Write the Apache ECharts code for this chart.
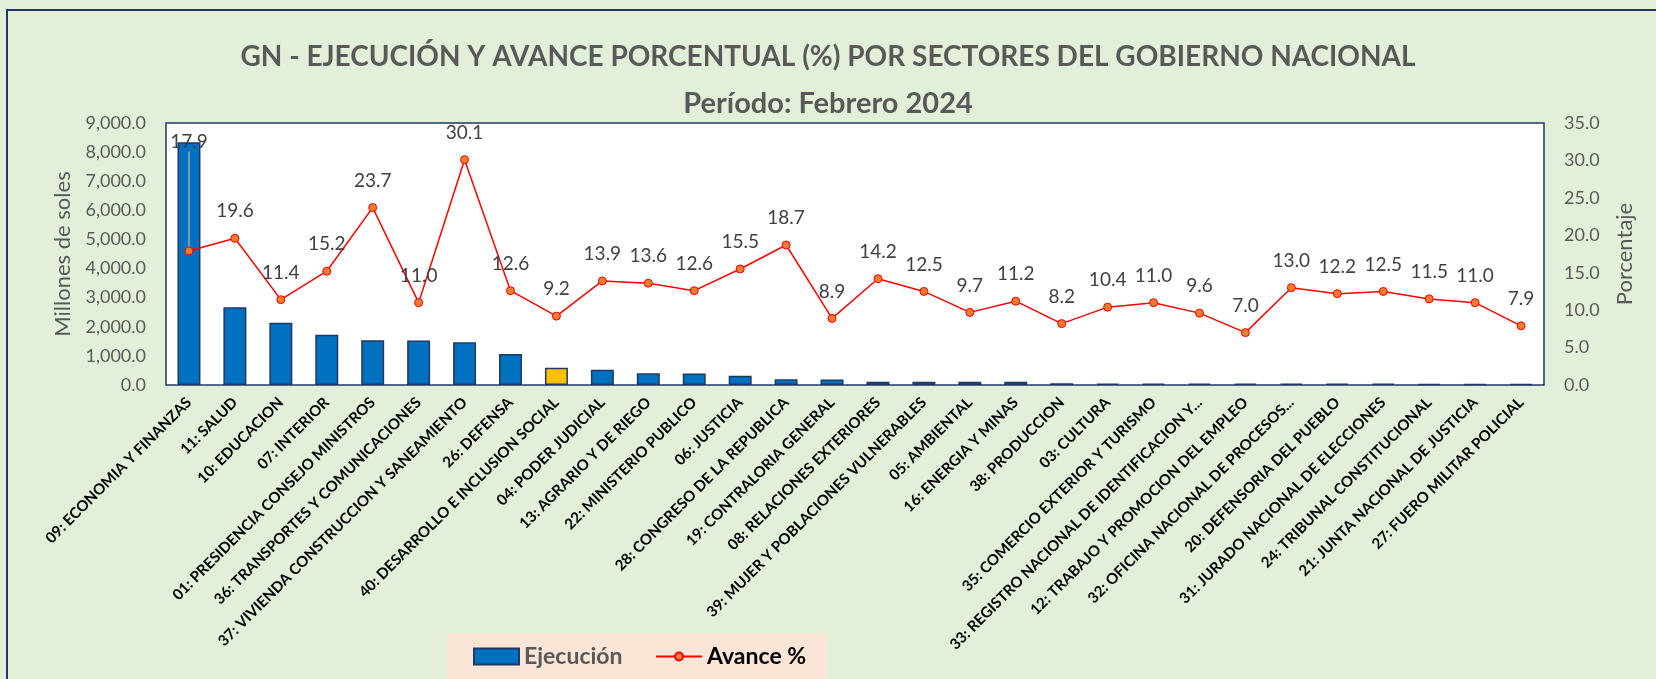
<!DOCTYPE html>
<html>
<head>
<meta charset="utf-8">
<script src="https://cdn.jsdelivr.net/npm/echarts@6/dist/echarts.min.js"></script>
<style>
html,body{margin:0;padding:0;background:#E2F0D9;}
#chart{width:1656px;height:679px;}
</style>
</head>
<body>
<div id="chart"></div>
<script>
const categories = [
  "09: ECONOMIA Y FINANZAS",
  "11: SALUD",
  "10: EDUCACION",
  "07: INTERIOR",
  "01: PRESIDENCIA CONSEJO MINISTROS",
  "36: TRANSPORTES Y COMUNICACIONES",
  "37: VIVIENDA CONSTRUCCION Y SANEAMIENTO",
  "26: DEFENSA",
  "40: DESARROLLO E INCLUSION SOCIAL",
  "04: PODER JUDICIAL",
  "13: AGRARIO Y DE RIEGO",
  "22: MINISTERIO PUBLICO",
  "06: JUSTICIA",
  "28: CONGRESO DE LA REPUBLICA",
  "19: CONTRALORIA GENERAL",
  "08: RELACIONES EXTERIORES",
  "39: MUJER Y POBLACIONES VULNERABLES",
  "05: AMBIENTAL",
  "16: ENERGIA Y MINAS",
  "38: PRODUCCION",
  "03: CULTURA",
  "35: COMERCIO EXTERIOR Y TURISMO",
  "33: REGISTRO NACIONAL DE IDENTIFICACION Y...",
  "12: TRABAJO Y PROMOCION DEL EMPLEO",
  "32: OFICINA NACIONAL DE PROCESOS...",
  "20: DEFENSORIA DEL PUEBLO",
  "31: JURADO NACIONAL DE ELECCIONES",
  "24: TRIBUNAL CONSTITUCIONAL",
  "21: JUNTA NACIONAL DE JUSTICIA",
  "27: FUERO MILITAR POLICIAL"
];
const ejecucion = [8340, 2670, 2140, 1730, 1535, 1530, 1465, 1065, 595, 525,
  400, 395, 320, 195, 190, 115, 110, 110, 110, 60,
  48, 46, 45, 45, 44, 44, 43, 42, 41, 40];
const avance = [17.9, 19.6, 11.4, 15.2, 23.7, 11.0, 30.1, 12.6, 9.2, 13.9,
  13.6, 12.6, 15.5, 18.7, 8.9, 14.2, 12.5, 9.7, 11.2, 8.2,
  10.4, 11.0, 9.6, 7.0, 13.0, 12.2, 12.5, 11.5, 11.0, 7.9];
const highlightCategory = "40: DESARROLLO E INCLUSION SOCIAL";
const titleText = "GN - EJECUCIÓN Y AVANCE PORCENTUAL (%) POR SECTORES DEL GOBIERNO NACIONAL";
const subtitleText = "Período: Febrero 2024";

const FONT = "Lato";
const chart = echarts.init(document.getElementById('chart'));
const barData = ejecucion.map((v, i) => categories[i] === highlightCategory
  ? { value: v, itemStyle: { color: '#FFC000' } } : v);
const lineData = avance.map((v, i) => i === 0
  ? { value: v, labelLine: { show: true, lineStyle: { color: '#A6A6A6', width: 1.5 } } } : v);

chart.setOption({
  backgroundColor: '#E2F0D9',
  textStyle: { fontFamily: FONT },
  graphic: [
    { type: 'rect', shape: { x: 7, y: 10, width: 1700, height: 720 },
      style: { fill: 'none', stroke: '#1F3864', lineWidth: 2 }, silent: true },
    { type: 'rect', shape: { x: 447, y: 633, width: 380, height: 60 },
      style: { fill: '#FBE5D6' }, silent: true, z: -1 }
  ],
  title: [
    { text: titleText, left: 'center', top: 38,
      textStyle: { fontFamily: FONT, fontSize: 28, fontWeight: 'bold', color: '#595959' } },
    { text: subtitleText, left: 'center', top: 84,
      textStyle: { fontFamily: FONT, fontSize: 29, fontWeight: 'bold', color: '#595959' } }
  ],
  legend: [
    { left: 473, top: 645, padding: 0,
      itemWidth: 45, itemHeight: 16, icon: 'rect', itemGap: 8,
      textStyle: { fontFamily: FONT, fontSize: 23, fontWeight: 'bold', color: '#595959' },
      data: ['Ejecución'] },
    { left: 655, top: 645, padding: 0,
      itemWidth: 46, itemHeight: 10, itemGap: 8,
      textStyle: { fontFamily: FONT, fontSize: 23, fontWeight: 'bold', color: '#000000' },
      data: ['Avance %'] }
  ],
  grid: {
    left: 166, right: 112, top: 123, bottom: 294,
    show: true, backgroundColor: '#ffffff', borderColor: '#1F3864', borderWidth: 1.5
  },
  xAxis: {
    type: 'category', data: categories,
    axisLine: { show: false }, axisTick: { show: false },
    axisLabel: { interval: 0, rotate: 45, margin: 15, fontFamily: FONT, fontSize: 15,
      fontWeight: 'bold', color: '#000000' }
  },
  yAxis: [
    { type: 'value', min: 0, max: 9000, interval: 1000,
      name: 'Millones de soles', nameLocation: 'middle', nameRotate: 90, nameGap: 92,
      nameTextStyle: { fontFamily: FONT, fontSize: 22, color: '#595959' },
      splitLine: { show: false }, axisLine: { show: false }, axisTick: { show: false },
      axisLabel: { margin: 20, fontFamily: FONT, fontSize: 18, color: '#595959',
        formatter: v => v.toLocaleString('en-US', { minimumFractionDigits: 1, maximumFractionDigits: 1 }) } },
    { type: 'value', min: 0, max: 35, interval: 5,
      name: 'Porcentaje', nameLocation: 'middle', nameRotate: 90, nameGap: 70,
      nameTextStyle: { fontFamily: FONT, fontSize: 22, color: '#595959' },
      splitLine: { show: false }, axisLine: { show: false }, axisTick: { show: false },
      axisLabel: { margin: 20, fontFamily: FONT, fontSize: 18, color: '#595959',
        formatter: v => v.toFixed(1) } }
  ],
  series: [
    { name: 'Ejecución', type: 'bar', data: barData, barWidth: '50%',
      itemStyle: { color: '#0070C0', borderColor: '#1F3864', borderWidth: 1.5 } },
    { name: 'Avance %', type: 'line', yAxisIndex: 1, data: lineData,
      symbol: 'circle', symbolSize: 8,
      itemStyle: { color: '#ED7D31', borderColor: '#FF0000', borderWidth: 1 },
      lineStyle: { color: '#FF0000', width: 1.5 },
      label: { show: true, position: 'top', distance: 13, fontFamily: FONT, fontSize: 19,
        color: '#404040', formatter: p => p.value.toFixed(1) },
      labelLine: { show: false },
      labelLayout: p => p.dataIndex === 0 ? { dy: -82 } : {}
    }
  ]
});
</script>
</body>
</html>
